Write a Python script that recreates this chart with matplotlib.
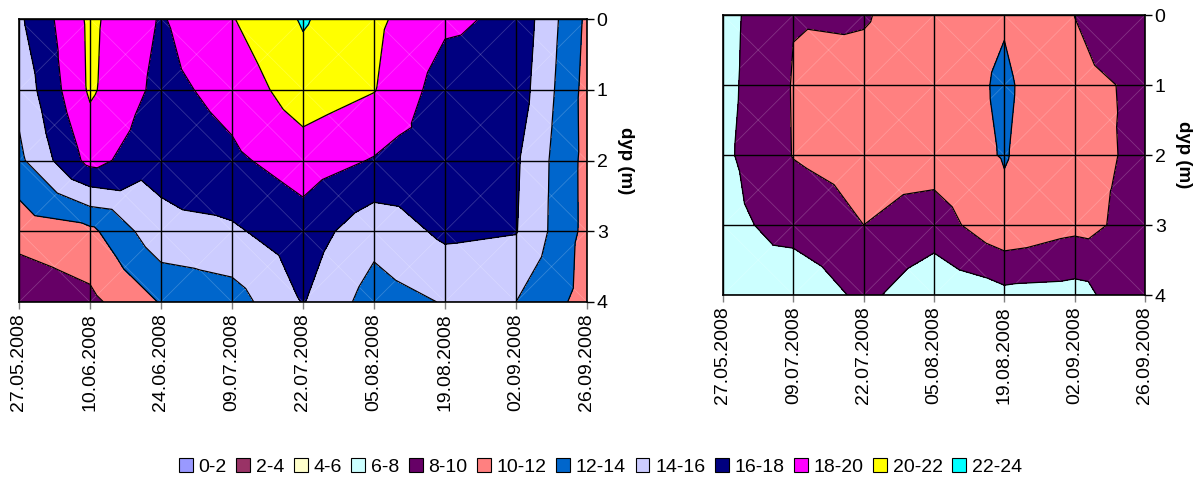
import numpy as np
import matplotlib
matplotlib.use("Agg")
import matplotlib.pyplot as plt
import matplotlib.tri as mtri
from matplotlib.patches import Patch

# ---------------- data ----------------
dates_left = ["27.05.2008", "10.06.2008", "24.06.2008", "09.07.2008", "22.07.2008",
              "05.08.2008", "19.08.2008", "02.09.2008", "26.09.2008"]
dates_right = ["27.05.2008", "09.07.2008", "22.07.2008", "05.08.2008",
               "19.08.2008", "02.09.2008", "26.09.2008"]
depths = [0, 1, 2, 3, 4]

# temperature, rows = depth 0..4, columns = dates
temp_left_d0 = [15.65, 20.40, 17.83, 19.89, 22.19, 20.42, 18.38, 17.57, 11.60]
temp_left_d1 = [14.57, 20.30, 17.38, 18.71, 21.12, 20.09, 17.05, 17.17, 11.32]
temp_left_d2 = [13.55, 18.64, 16.57, 17.61, 18.99, 17.87, 17.20, 16.28, 11.38]
temp_left_d3 = [10.73, 11.50, 15.47, 15.72, 17.08, 14.70, 16.42, 16.10, 11.40]
temp_left_d4 = [8.45, 9.50, 12.13, 13.07, 16.10, 13.08, 14.12, 14.00, 11.25]

temp_right_d0 = [7.32, 9.93, 9.87, 10.90, 11.83, 9.99, 9.00]
temp_right_d1 = [7.39, 10.11, 10.50, 10.84, 12.30, 10.30, 9.79]
temp_right_d2 = [7.59, 10.07, 10.60, 10.95, 12.12, 10.40, 9.75]
temp_right_d3 = [7.28, 8.89, 10.00, 9.03, 11.51, 10.52, 9.38]
temp_right_d4 = [7.00, 6.20, 8.55, 6.45, 7.43, 7.24, 9.69]

levels = [0, 2, 4, 6, 8, 10, 12, 14, 16, 18, 20, 22, 24]
level_labels = ["0-2", "2-4", "4-6", "6-8", "8-10", "10-12", "12-14",
                "14-16", "16-18", "18-20", "20-22", "22-24"]
level_colors = ["#9999FF", "#993366", "#FFFFCC", "#CCFFFF", "#660066", "#FF8080",
                "#0066CC", "#CCCCFF", "#000080", "#FF00FF", "#FFFF00", "#00FFFF"]

temp_left = np.array([temp_left_d0, temp_left_d1, temp_left_d2, temp_left_d3, temp_left_d4])
temp_right = np.array([temp_right_d0, temp_right_d1, temp_right_d2, temp_right_d3, temp_right_d4])

plt.rcParams["font.family"] = ["Liberation Sans", "DejaVu Sans"]
FS = 14


def build_tri(z):
    ny, nx = z.shape
    xs, ys, vs = [], [], []
    for j in range(ny):
        for i in range(nx):
            xs.append(i)
            ys.append(depths[j])
            vs.append(z[j, i])
    tris = []
    for j in range(ny - 1):
        for i in range(nx - 1):
            a = j * nx + i
            b = a + 1
            c = a + nx
            d = c + 1
            k = len(xs)
            xs.append(i + 0.5)
            ys.append((depths[j] + depths[j + 1]) / 2)
            vs.append(z[j:j + 2, i:i + 2].mean())
            tris += [[a, b, k], [b, d, k], [d, c, k], [c, a, k]]
    return mtri.Triangulation(xs, ys, tris), np.array(vs)


def draw(ax, z, labels):
    ny, nx = z.shape
    tri, v = build_tri(z)
    ax.tricontourf(tri, v, levels=levels, colors=level_colors, zorder=1)
    # faint cell diagonals
    for j in range(ny - 1):
        for i in range(nx - 1):
            ax.plot([i, i + 1], [depths[j], depths[j + 1]], color="white", alpha=0.2, lw=0.6, zorder=1.5)
            ax.plot([i, i + 1], [depths[j + 1], depths[j]], color="white", alpha=0.2, lw=0.6, zorder=1.5)
    ax.tricontour(tri, v, levels=levels, colors="black", linewidths=0.9, zorder=2)
    ax.set_xlim(0, nx - 1)
    ax.set_ylim(depths[-1], depths[0])
    ax.set_xticks(range(nx))
    ax.set_xticklabels(labels, rotation=90, fontsize=FS)
    ax.set_yticks(depths)
    ax.set_yticklabels([str(d) for d in depths], fontsize=FS)
    ax.yaxis.tick_right()
    ax.yaxis.set_label_position("right")
    ax.set_ylabel("dyp (m)", rotation=270, va="bottom", fontsize=13.5, fontweight="bold", labelpad=7)
    ax.tick_params(axis="x", direction="out", length=5, width=1, color="#808080", pad=3)
    ax.tick_params(axis="y", direction="out", length=5, width=1, color="black", pad=2)
    ax.set_axisbelow(False)
    ax.grid(True, color="black", lw=1)
    for s in ax.spines.values():
        s.set_color("black")
        s.set_linewidth(1.2)
        s.set_zorder(3)


fig = plt.figure(figsize=(12.01, 4.79), dpi=100)
ax1 = fig.add_axes([19 / 1201, 1 - 302 / 479, (587 - 19) / 1201, (302 - 19) / 479])
ax2 = fig.add_axes([723 / 1201, 1 - 295 / 479, (1145 - 723) / 1201, (295 - 15) / 479])
draw(ax1, temp_left, dates_left)
draw(ax2, temp_right, dates_right)

handles = [Patch(facecolor=c, edgecolor="black", linewidth=0.8) for c in level_colors]
fig.legend(handles, level_labels, loc="center", bbox_to_anchor=(0.5, 1 - 467 / 479), ncol=12,
           frameon=False, fontsize=FS, handlelength=0.7, handleheight=0.7, handletextpad=0.3,
           columnspacing=0.5, borderaxespad=0)

fig.savefig("out.png", dpi=100)
